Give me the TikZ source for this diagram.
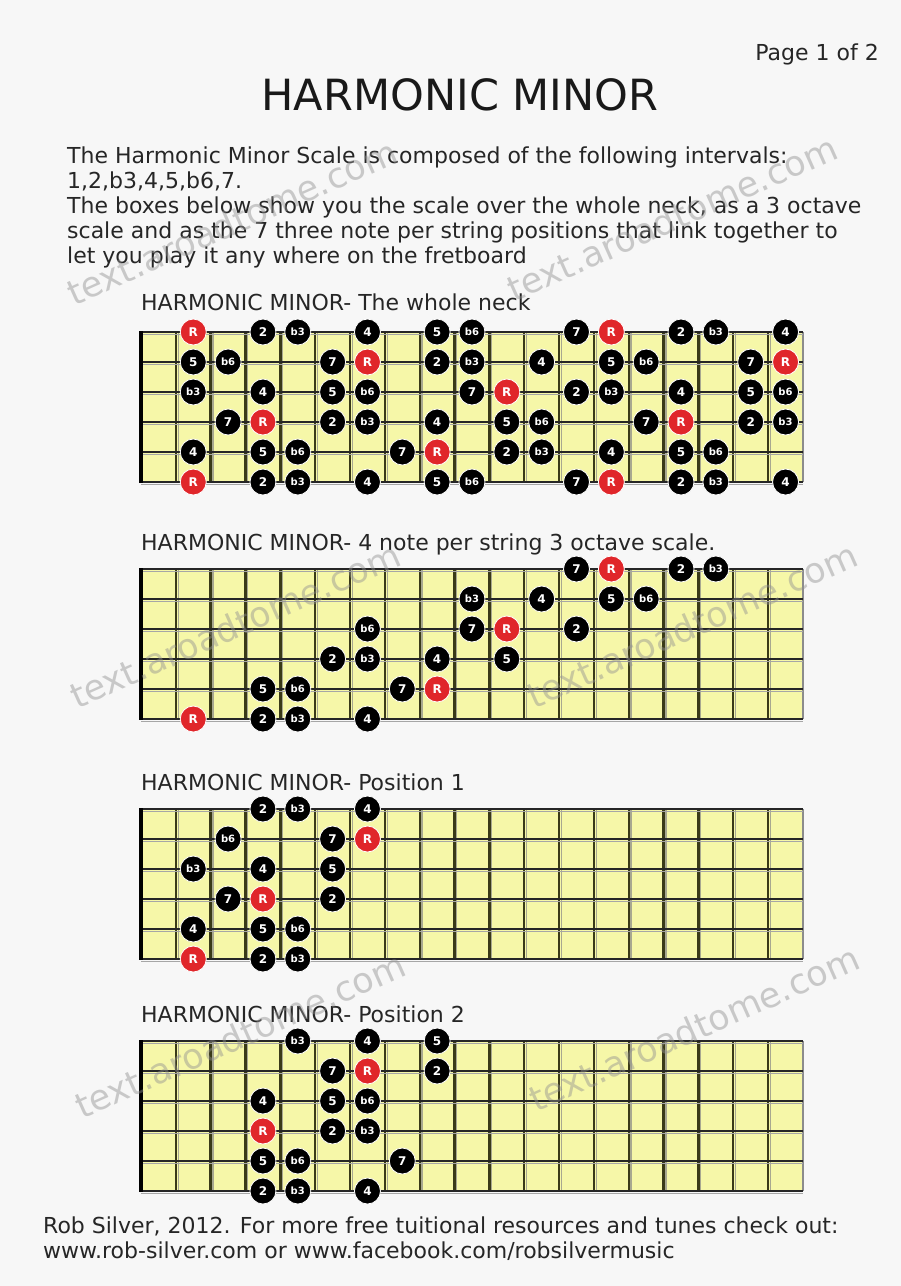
\documentclass[tikz,border=0pt]{standalone}
\usepackage{fontspec}
\setmainfont{DejaVu Sans}
\definecolor{bg}{HTML}{F7F7F7}
\definecolor{board}{HTML}{F6F7A8}
\definecolor{fretc}{HTML}{3A3A18}
\definecolor{fretsh}{HTML}{A8A890}
\definecolor{notered}{HTML}{E0262A}
\definecolor{wmark}{HTML}{909090}
\tikzset{
  note/.style={circle, fill=black, text=white, minimum size=26pt, inner sep=0pt,
    draw=white, line width=0.8pt, font=\fontsize{12}{12}\selectfont\bfseries},
  lbl R/.style={fill=notered},
  lbl 2/.style={}, lbl 4/.style={}, lbl 5/.style={}, lbl 7/.style={},
  lbl b3/.style={font=\fontsize{10}{10}\selectfont\bfseries},
  lbl b6/.style={font=\fontsize{10}{10}\selectfont\bfseries},
  fretline/.style={draw=fretc, line width=2.4pt},
  fretshade/.style={draw=fretsh, line width=1.2pt},
  edgeline/.style={draw=black!45, line width=2pt},
  stringline/.style={draw=black!85, line width=1.6pt},
  stringshade/.style={draw=black!35, line width=1pt},
  nutline/.style={draw=black, line width=4pt},
  txt/.style={anchor=base west, inner sep=0pt, font=\fontsize{22}{22}\selectfont, text=black!85},
  wm/.style={text=wmark, opacity=0.45, inner sep=0pt, rotate=24, font=\fontsize{35}{35}\selectfont},
}
\newcommand\drawboard[1]{%
  \fill[board] (141,#1) rectangle (803,#1+150);
  \foreach \k in {1,...,18}{
    \draw[fretshade] ({141+34.84*\k+2.3},#1) -- ({141+34.84*\k+2.3},#1+150);
    \draw[fretline] ({141+34.84*\k},#1) -- ({141+34.84*\k},#1+150);
  }
  \draw[edgeline] (803,#1) -- (803,#1+150);
  \foreach \st in {0,...,5}{
    \draw[stringshade] (141,#1+30*\st+2) -- (803,#1+30*\st+2);
    \draw[stringline] (141,#1+30*\st) -- (803,#1+30*\st);
  }
  \draw[nutline] (141,#1-1) -- (141,#1+151);
}
\newcommand\placenotes[3]{%
  \foreach \st/\fr/\lab in {#3}{
    \edef\tmpnode{\noexpand\node[note, lbl \lab] (#1\st-\fr) at ({141+34.84*(\fr-0.5)},{#2+30*(\st-1)}) {\lab};}
    \tmpnode
  }
}
\begin{document}
\begin{tikzpicture}[x=1pt,y=-1pt]
\useasboundingbox (0,0) rectangle (901,1286);
\fill[bg] (0,0) rectangle (901,1286);

% header texts
\node[anchor=base east, inner sep=0pt, font=\fontsize{22}{22}\selectfont, text=black!85] (page) at (879,60) {Page 1 of 2};
\node[anchor=base, inner sep=0pt, font=\fontsize{43}{43}\selectfont, text=black!90] (title) at (460,110) {HARMONIC MINOR};
\node[txt] (p1) at (67,163) {The Harmonic Minor Scale is composed of the following intervals:};
\node[txt] (p2) at (67,188) {1,2,b3,4,5,b6,7.};
\node[txt] (p3) at (67,213) {The boxes below show you the scale over the whole neck, as a 3 octave};
\node[txt] (p4) at (67,238) {scale and as the 7 three note per string positions that link together to};
\node[txt] (p5) at (67,263) {let you play it any where on the fretboard};

% board 1: whole neck
\node[txt] (h1) at (141,310) {HARMONIC MINOR- The whole neck};
\drawboard{332}
\placenotes{A}{332}{1/2/R,1/4/2,1/5/b3,1/7/4,1/9/5,1/10/b6,1/13/7,1/14/R,1/16/2,1/17/b3,1/19/4,
2/2/5,2/3/b6,2/6/7,2/7/R,2/9/2,2/10/b3,2/12/4,2/14/5,2/15/b6,2/18/7,2/19/R,
3/2/b3,3/4/4,3/6/5,3/7/b6,3/10/7,3/11/R,3/13/2,3/14/b3,3/16/4,3/18/5,3/19/b6,
4/3/7,4/4/R,4/6/2,4/7/b3,4/9/4,4/11/5,4/12/b6,4/15/7,4/16/R,4/18/2,4/19/b3,
5/2/4,5/4/5,5/5/b6,5/8/7,5/9/R,5/11/2,5/12/b3,5/14/4,5/16/5,5/17/b6,
6/2/R,6/4/2,6/5/b3,6/7/4,6/9/5,6/10/b6,6/13/7,6/14/R,6/16/2,6/17/b3,6/19/4}

% board 2: 3 octave
\node[txt] (h2) at (141,550) {HARMONIC MINOR- 4 note per string 3 octave scale.};
\drawboard{569}
\placenotes{B}{569}{6/2/R,6/4/2,6/5/b3,6/7/4,
5/4/5,5/5/b6,5/8/7,5/9/R,
4/6/2,4/7/b3,4/9/4,4/11/5,
3/7/b6,3/10/7,3/11/R,3/13/2,
2/10/b3,2/12/4,2/14/5,2/15/b6,
1/13/7,1/14/R,1/16/2,1/17/b3}

% board 3: position 1
\node[txt] (h3) at (141,790) {HARMONIC MINOR- Position 1};
\drawboard{809}
\placenotes{C}{809}{1/4/2,1/5/b3,1/7/4,
2/3/b6,2/6/7,2/7/R,
3/2/b3,3/4/4,3/6/5,
4/3/7,4/4/R,4/6/2,
5/2/4,5/4/5,5/5/b6,
6/2/R,6/4/2,6/5/b3}

% board 4: position 2
\node[txt] (h4) at (141,1022) {HARMONIC MINOR- Position 2};
\drawboard{1041}
\placenotes{D}{1041}{1/5/b3,1/7/4,1/9/5,
2/6/7,2/7/R,2/9/2,
3/4/4,3/6/5,3/7/b6,
4/4/R,4/6/2,4/7/b3,
5/4/5,5/5/b6,5/8/7,
6/4/2,6/5/b3,6/7/4}

% footer
\node[txt] (f1) at (43,1233) {Rob Silver, 2012. For more free tuitional resources and tunes check out:};
\node[txt] (f2) at (43,1258) {www.rob-silver.com or www.facebook.com/robsilvermusic};

% watermarks
\node[wm] (w1) at (232,222) {text.aroadtome.com};
\node[wm] (w2) at (672,218) {text.aroadtome.com};
\node[wm] (w3) at (235,625) {text.aroadtome.com};
\node[wm] (w4) at (692,625) {text.aroadtome.com};
\node[wm] (w5) at (240,1035) {text.aroadtome.com};
\node[wm] (w6) at (694,1028) {text.aroadtome.com};
\end{tikzpicture}
\end{document}
